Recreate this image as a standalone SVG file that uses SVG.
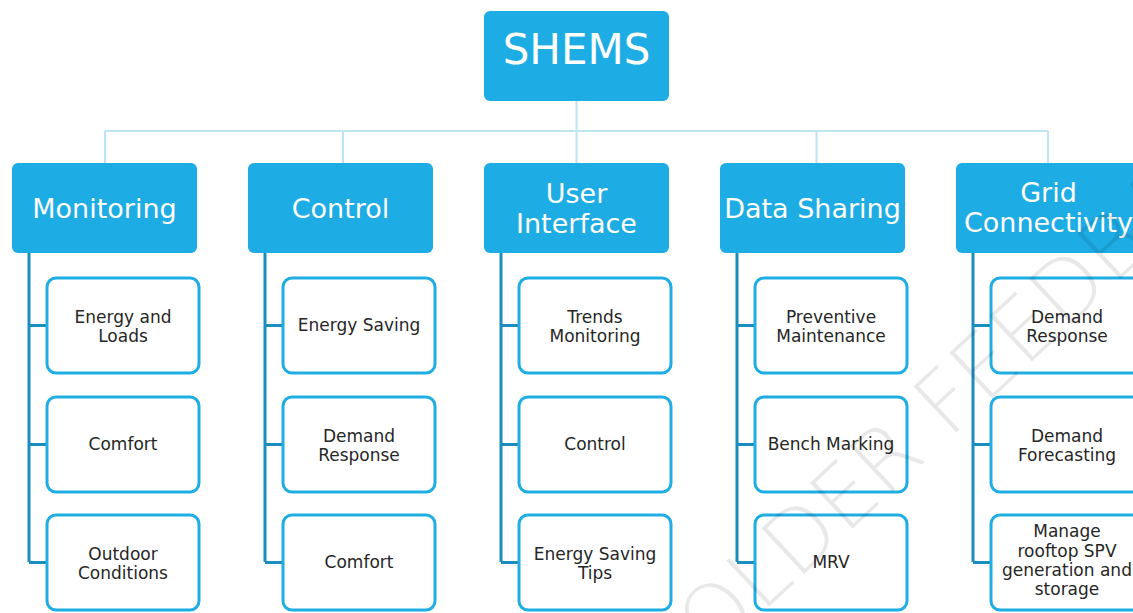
<svg xmlns="http://www.w3.org/2000/svg" width="1133" height="613" viewBox="0 0 1133 613">
  <style>
    .cat { fill: #1DACE3; }
    .cat-label { fill: #ffffff; font-family: "DejaVu Sans", "Liberation Sans", sans-serif; font-size: 27px; text-anchor: middle; }
    .root-label { fill: #ffffff; font-family: "DejaVu Sans", "Liberation Sans", sans-serif; font-size: 42px; text-anchor: middle; }
    .item { fill: #ffffff; stroke: #1EAEE4; stroke-width: 3; }
    .item-label { fill: #262626; font-family: "DejaVu Sans", "Liberation Sans", sans-serif; font-size: 17px; text-anchor: middle; }
    .trunk { stroke: #BDE4F2; stroke-width: 2; fill: none; }
    .spine { stroke: #1A8DBF; stroke-width: 3; fill: none; }
    .mark { fill: #000000; fill-opacity: 0.09; font-family: "DejaVu Sans", "Liberation Sans", sans-serif; font-weight: 300; font-size: 86px; }
  </style>

  <rect width="1133" height="613" fill="#ffffff"/>

  <!-- connectors -->
  <g id="connectors">
    <path class="trunk" d="M576.5 101 V163 M105 131 H1048 M105 131 V163 M343 131 V163 M816.5 131 V163 M1048 131 V163"/>
    <path class="spine" d="M29 253 V562 M29 325.5 H47 M29 444.5 H47 M29 562.5 H47"/>
    <path class="spine" d="M265 253 V562 M265 325.5 H283 M265 444.5 H283 M265 562.5 H283"/>
    <path class="spine" d="M501 253 V562 M501 325.5 H519 M501 444.5 H519 M501 562.5 H519"/>
    <path class="spine" d="M737 253 V562 M737 325.5 H755 M737 444.5 H755 M737 562.5 H755"/>
    <path class="spine" d="M973 253 V562 M973 325.5 H991 M973 444.5 H991 M973 562.5 H991"/>
  </g>

  <!-- root -->
  <g id="shems">
    <rect class="cat" x="484" y="11" width="185" height="90" rx="6"/>
    <text class="root-label" x="576.5" y="64">SHEMS</text>
  </g>

  <!-- categories -->
  <g id="monitoring">
    <rect class="cat" x="12" y="163" width="185" height="90" rx="6"/>
    <text class="cat-label" x="104.5" y="218">Monitoring</text>
  </g>
  <g id="control">
    <rect class="cat" x="248" y="163" width="185" height="90" rx="6"/>
    <text class="cat-label" x="340.5" y="218">Control</text>
  </g>
  <g id="user-interface">
    <rect class="cat" x="484" y="163" width="185" height="90" rx="6"/>
    <text class="cat-label" x="576.5" y="203">User</text>
    <text class="cat-label" x="576.5" y="233">Interface</text>
  </g>
  <g id="data-sharing">
    <rect class="cat" x="720" y="163" width="185" height="90" rx="6"/>
    <text class="cat-label" x="812.5" y="218">Data Sharing</text>
  </g>
  <g id="grid-connectivity">
    <rect class="cat" x="956" y="163" width="185" height="90" rx="6"/>
    <text class="cat-label" x="1048.5" y="202">Grid</text>
    <text class="cat-label" x="1048.5" y="232">Connectivity</text>
  </g>

  <!-- Monitoring items -->
  <g id="mon-energy">
    <rect class="item" x="47" y="278" width="152" height="95" rx="9"/>
    <text class="item-label" x="123" y="323">Energy and</text>
    <text class="item-label" x="123" y="342">Loads</text>
  </g>
  <g id="mon-comfort">
    <rect class="item" x="47" y="397" width="152" height="95" rx="9"/>
    <text class="item-label" x="123" y="450">Comfort</text>
  </g>
  <g id="mon-outdoor">
    <rect class="item" x="47" y="515" width="152" height="95" rx="9"/>
    <text class="item-label" x="123" y="560">Outdoor</text>
    <text class="item-label" x="123" y="579">Conditions</text>
  </g>

  <!-- Control items -->
  <g id="ctl-saving">
    <rect class="item" x="283" y="278" width="152" height="95" rx="9"/>
    <text class="item-label" x="359" y="331">Energy Saving</text>
  </g>
  <g id="ctl-demand">
    <rect class="item" x="283" y="397" width="152" height="95" rx="9"/>
    <text class="item-label" x="359" y="442">Demand</text>
    <text class="item-label" x="359" y="461">Response</text>
  </g>
  <g id="ctl-comfort">
    <rect class="item" x="283" y="515" width="152" height="95" rx="9"/>
    <text class="item-label" x="359" y="568">Comfort</text>
  </g>

  <!-- User Interface items -->
  <g id="ui-trends">
    <rect class="item" x="519" y="278" width="152" height="95" rx="9"/>
    <text class="item-label" x="595" y="323">Trends</text>
    <text class="item-label" x="595" y="342">Monitoring</text>
  </g>
  <g id="ui-control">
    <rect class="item" x="519" y="397" width="152" height="95" rx="9"/>
    <text class="item-label" x="595" y="450">Control</text>
  </g>
  <g id="ui-tips">
    <rect class="item" x="519" y="515" width="152" height="95" rx="9"/>
    <text class="item-label" x="595" y="560">Energy Saving</text>
    <text class="item-label" x="595" y="579">Tips</text>
  </g>

  <!-- Data Sharing items -->
  <g id="ds-maintenance">
    <rect class="item" x="755" y="278" width="152" height="95" rx="9"/>
    <text class="item-label" x="831" y="323">Preventive</text>
    <text class="item-label" x="831" y="342">Maintenance</text>
  </g>
  <g id="ds-bench">
    <rect class="item" x="755" y="397" width="152" height="95" rx="9"/>
    <text class="item-label" x="831" y="450">Bench Marking</text>
  </g>
  <g id="ds-mrv">
    <rect class="item" x="755" y="515" width="152" height="95" rx="9"/>
    <text class="item-label" x="831" y="568">MRV</text>
  </g>

  <!-- Grid Connectivity items -->
  <g id="grid-demand">
    <rect class="item" x="991" y="278" width="152" height="95" rx="9"/>
    <text class="item-label" x="1067" y="323">Demand</text>
    <text class="item-label" x="1067" y="342">Response</text>
  </g>
  <g id="grid-forecast">
    <rect class="item" x="991" y="397" width="152" height="95" rx="9"/>
    <text class="item-label" x="1067" y="442">Demand</text>
    <text class="item-label" x="1067" y="461">Forecasting</text>
  </g>
  <g id="grid-spv">
    <rect class="item" x="991" y="515" width="152" height="95" rx="9"/>
    <text class="item-label" x="1067" y="537">Manage</text>
    <text class="item-label" x="1067" y="557">rooftop SPV</text>
    <text class="item-label" x="1067" y="576">generation and</text>
    <text class="item-label" x="1067" y="595">storage</text>
  </g>

  <!-- faint diagonal watermark -->
  <text class="mark" transform="translate(712 660) rotate(-43)">OLDER FEEDBACK</text>
</svg>
